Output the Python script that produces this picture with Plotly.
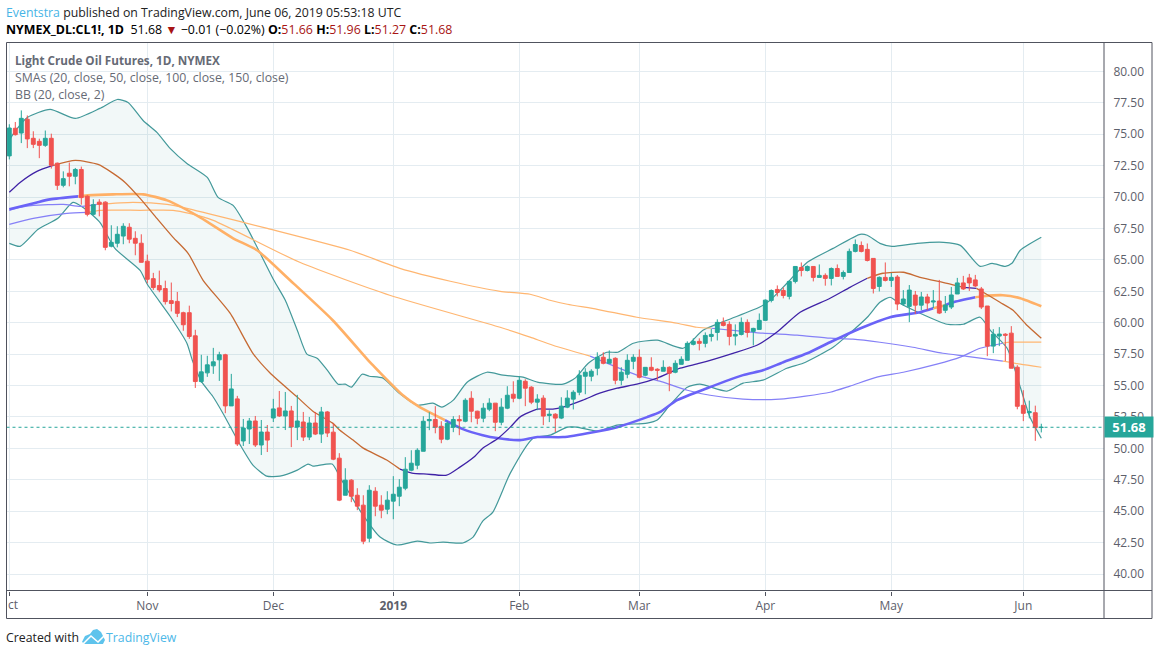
import plotly.graph_objects as go

W, H = 1158, 655

OPEN = [73.28,75.48,75.10,76.20,74.68,74.44,74.12,74.68,72.70,70.94,71.90,71.66,72.20,70.07,68.63,69.60,69.60,66.09,66.33,66.90,
        67.60,66.72,66.33,64.90,63.51,62.96,62.72,61.76,61.70,60.80,60.80,58.96,55.32,56.01,56.57,57.05,57.45,53.38,53.94,50.59,
        51.54,52.18,50.27,51.30,52.42,53.22,52.58,52.98,51.70,52.10,50.90,52.02,51.14,52.90,51.29,49.22,46.27,47.47,46.27,45.48,
        42.85,46.59,45.48,45.16,45.80,46.19,46.83,48.26,48.66,49.77,52.20,52.30,51.76,50.73,51.68,52.30,52.16,53.99,52.96,52.40,
        53.12,53.60,52.08,53.20,54.31,53.99,55.34,54.87,53.68,54.00,52.62,52.72,52.41,53.28,53.92,54.47,55.74,55.74,56.38,57.25,
        56.77,57.17,55.42,55.90,56.93,57.25,55.82,56.45,56.30,56.14,56.45,56.06,56.69,57.01,58.28,58.52,58.36,58.91,59.23,60.03,
        59.87,58.94,59.07,60.03,59.31,59.47,60.19,61.78,62.65,62.57,62.10,63.29,64.40,64.16,64.48,63.61,63.77,63.53,64.32,63.69,
        64.00,65.68,66.15,65.84,65.12,62.89,63.61,63.37,63.64,61.49,61.30,62.20,61.40,62.05,61.65,61.73,60.99,61.25,62.29,63.17,
        63.57,63.41,62.69,61.33,58.14,58.94,59.09,59.17,56.46,53.43,52.84,52.84,51.66]
HIGH = [75.80,75.98,76.90,76.50,75.24,74.65,75.30,75.05,72.75,72.05,72.75,72.32,72.43,70.15,69.83,69.83,69.67,67.76,67.68,67.92,
        67.92,67.28,67.04,65.42,63.97,64.15,63.35,63.20,62.45,60.88,61.36,59.44,57.45,57.37,58.00,57.69,57.53,55.93,54.18,52.34,
        52.42,52.58,52.26,51.86,53.94,54.57,54.49,53.38,54.26,52.90,52.50,52.90,53.30,52.98,52.00,49.62,48.42,47.55,46.83,46.27,
        47.07,46.91,46.27,46.59,47.79,47.55,49.30,49.85,50.01,52.56,52.88,53.36,52.16,52.16,52.56,52.64,53.99,54.55,53.00,53.60,
        53.99,53.60,53.99,54.95,55.34,55.74,55.50,54.95,54.31,54.23,53.04,52.80,54.07,54.63,54.63,56.22,56.38,56.30,57.65,57.65,
        57.80,57.25,56.46,57.49,57.49,57.88,56.45,57.25,56.38,57.01,56.53,57.01,57.33,58.52,58.76,58.76,59.23,59.50,60.27,60.42,
        60.11,59.87,60.42,60.27,59.60,60.74,61.86,62.65,62.97,62.81,63.37,64.48,64.80,64.56,64.48,64.64,63.93,64.40,64.64,64.16,
        65.90,66.63,66.47,66.31,65.12,63.69,64.80,63.96,63.80,62.60,63.00,62.53,62.45,62.30,62.60,63.41,62.13,62.85,63.57,63.73,
        63.89,63.81,62.85,61.33,59.49,59.65,59.17,59.73,56.62,54.63,53.80,53.40,51.96]
LOW = [73.00,74.90,74.30,73.90,73.90,73.10,74.00,72.27,70.57,70.78,70.86,71.02,69.40,68.47,68.55,68.47,65.77,66.00,66.00,66.25,
       66.33,65.37,64.80,63.14,62.61,62.43,61.45,60.90,60.45,59.36,58.72,54.81,55.21,55.69,55.93,55.37,52.80,53.38,50.19,50.19,
       50.35,50.11,49.47,49.71,52.10,52.50,51.46,50.10,50.66,50.59,50.66,51.06,50.43,50.90,49.06,45.80,46.27,45.72,45.08,42.37,
       42.53,44.60,44.44,44.76,44.36,45.40,46.67,48.18,48.34,49.77,51.45,51.20,50.41,50.65,51.29,51.05,52.08,52.08,51.92,52.08,
       52.96,51.37,51.84,53.12,53.67,53.91,53.36,53.52,53.04,51.85,52.09,51.30,52.33,53.20,53.10,54.23,54.31,55.34,55.82,56.69,
       56.77,55.10,55.03,55.58,56.30,55.58,55.74,56.14,55.42,56.14,54.55,55.98,56.69,57.01,58.20,57.80,58.04,58.51,58.59,59.71,
       58.20,58.20,58.99,58.83,58.20,59.47,60.19,61.62,62.10,61.94,61.86,63.13,63.69,64.08,63.29,63.61,62.95,62.97,63.69,63.45,
       64.00,65.60,65.60,64.88,62.33,62.49,63.29,62.85,61.00,61.34,60.05,60.70,61.00,61.00,61.17,60.69,60.77,61.09,62.29,62.61,
       62.53,62.85,61.09,57.34,57.58,58.14,56.95,56.38,53.11,52.17,52.39,50.60,51.27]
CLOSE = [75.50,74.97,76.27,74.63,74.20,74.12,74.68,72.53,70.94,71.47,71.66,72.20,69.96,68.63,69.40,69.43,66.00,66.40,67.04,67.68,
         66.65,66.33,64.81,63.46,62.80,62.61,61.68,61.53,60.75,59.84,58.91,55.32,56.09,56.65,56.89,57.45,53.38,54.73,50.35,51.62,
         52.18,50.27,51.30,50.66,53.14,52.58,52.98,51.70,52.18,50.90,52.02,51.14,52.90,51.22,49.14,45.88,47.47,46.19,45.40,42.61,
         46.67,45.40,45.08,45.88,46.35,46.91,48.34,48.82,49.85,52.16,52.30,51.68,50.73,52.00,52.30,52.19,53.83,52.96,52.40,53.20,
         53.60,52.08,53.28,54.23,53.99,55.42,54.79,53.68,53.92,52.57,52.72,52.41,53.36,54.00,54.47,55.82,56.06,56.14,57.25,56.77,
         57.09,55.42,56.06,57.01,57.25,55.66,56.45,56.22,56.22,56.45,55.98,56.77,57.09,58.36,58.52,58.36,58.99,59.07,60.03,59.79,
         58.91,59.07,60.03,59.23,59.55,60.19,61.80,62.57,62.41,62.17,63.29,64.48,64.16,64.48,63.61,63.77,63.53,64.32,63.69,64.00,
         65.68,66.23,65.68,64.96,62.73,63.61,63.37,63.61,61.49,61.89,62.60,61.40,62.05,61.57,61.73,60.77,61.41,62.21,63.17,62.69,
         63.17,62.93,61.25,58.14,59.09,59.10,59.01,56.38,53.35,52.79,52.92,51.65,51.68]
INDEX = list(range(len(CLOSE)))

BB_UPPER = [(0,74.51),(0.6,74.99),(3,76.34),(6.8,76.98),(11,76.26),(15.1,77.06),(18,77.77),(19.8,77.53),(22.3,76.10),(24.6,75.15),
            (26.8,73.88),(29.6,72.68),(33,71.57),(34.8,69.98),(37.3,69.34),(39.6,67.59),(44.1,63.38),(46,61.79),(48,59.40),(49.6,57.50),
            (51.3,57.18),(53,56.22),(54.8,55.11),(56,55.11),(57,54.87),(58.8,55.90),(60,55.74),(62.3,55.59),(65,54.39),(68,53.44),
            (70.6,53.60),(72.1,53.28),(74,53.84),(76.3,55.27),(79.6,56.06),(82.3,55.83),(85.6,55.67),(88,55.27),(92.3,55.11),(94.3,55.59),
            (96.5,56.78),(99.6,57.65),(101.4,57.65),(104,58.37),(108,58.61),(112.3,57.97),(115.6,59.40),(119.6,60.20),(125,61.23),(126.8,61.79),
            (129.6,63.14),(133,64.81),(137.3,65.92),(141.8,67.04),(143,66.96),(145.1,66.32),(147.1,66.08),(151.3,66.32),(155.7,66.40),(158.5,66.16),
            (161.8,64.49),(163.8,64.73),(166,64.49),(167.1,64.73),(168.5,65.77),(172,66.80)]
BB_LOWER = [(0,66.32),(1.8,66.08),(4.8,67.44),(8.1,68.31),(10.6,69.58),(12.3,69.18),(15.1,67.99),(17.6,65.92),(21.8,64.17),(23,63.06),
            (26.8,60.52),(29.6,58.37),(30.5,57.02),(32.1,55.27),(33.9,54.15),(35.6,52.80),(38.5,50.26),(40.6,48.67),(42.9,47.79),(45.1,47.79),
            (48,48.27),(49.8,48.75),(50.6,48.59),(53.8,48.75),(55.1,47.71),(58.4,45.09),(61.8,42.94),(64.6,42.31),(68,42.62),(70.1,42.47),
            (72.3,42.54),(75.6,42.47),(77.3,42.94),(78.9,44.21),(80.6,44.93),(83.5,48.03),(87.3,50.81),(90.1,51.05),(93,51.69),(94.6,51.69),
            (98,51.37),(101.3,51.85),(106.3,52.01),(108,52.25),(110.1,53.44),(113,54.87),(115.1,55.11),(119.6,54.55),(122.3,55.19),(125.6,55.43),
            (129.6,56.38),(132.3,56.78),(137.3,58.05),(140.1,59.17),(143,60.44),(145.1,61.63),(146.8,62.03),(148.1,61.63),(151.8,60.76),(156.3,59.88),
            (159,59.88),(161.8,60.44),(163.5,59.40),(166.3,57.97),(168.5,54.87),(170.1,52.49),(172,50.81)]

SMA20_PURPLE = [
    [(0,70.38),(1.8,71.17),(4.6,72.05),(6.8,72.45),(7.4,72.53)],
    [(65.1,48.35),(67.1,48.03),(69.6,47.95),(72.9,47.87),(75.1,48.51),(77.6,49.38),(78.9,50.02),(81.3,50.74),(83.5,51.69),(85.1,52.49),(88,53.12),
     (90.6,53.12),(92.3,53.28),(95.6,53.84),(98.4,54.39),(101.3,54.79),(104.6,55.11),(108,55.59),(111.8,56.38),(115.1,56.78),(120.6,57.57),
     (124.6,58.21),(127.9,59.24),(131.8,60.84),(136.8,61.95),(140.1,62.82),(143,63.54)],
    [(159,62.82),(161.2,62.74)],
]
SMA20_BROWN = [
    [(7.4,72.53),(11,72.92),(14.8,72.60),(17.3,71.89),(19.3,71.17),(21.8,69.90),(24.6,68.31),(27.3,66.80),(29.8,65.53),(32.3,63.38),(36.8,60.76),
     (40.6,57.57),(43.5,55.98),(48,54.08),(50.6,52.96),(53.9,52.01),(55.1,51.45),(57.3,50.66),(59,50.02),(62.9,49.07),(65.1,48.35)],
    [(143,63.54),(145.6,63.94),(149,64.02),(151.8,63.62),(156.3,63.14),(159,62.82)],
    [(161.2,62.74),(162.6,62.35),(165.1,61.63),(167.3,60.99),(169.6,59.80),(172,58.77)],
]
SMA50_BLUE = [
    [(0,69.03),(4.6,69.58),(6.8,69.82),(11.5,70.06)],
    [(72.6,52.25),(75.6,51.53),(78.9,51.05),(81.3,50.82),(85.1,50.66),(88,50.90),(92.3,50.90),(97.3,51.29),(101.3,51.69),(106.3,52.49),(108.4,52.88),
     (111.3,53.84),(116.3,54.79),(122.3,55.83),(125.6,56.22),(129,56.86),(133,57.57),(136.8,58.45),(142.3,59.64),(146.8,60.44),(151.8,60.84),(154,61.15)],
    [(156,61.40),(157.3,61.63),(161,62.03)],
]
SMA50_ORANGE = [
    [(11.5,70.06),(13,70.14),(17.3,70.22),(22.3,70.22),(26.3,69.74),(31.8,68.39),(37.3,66.72),(41.3,65.77),(46.8,63.38),(53.9,60.20),(60.1,56.86),
     (61.4,56.22),(65.6,54.23),(68.4,53.28),(72.6,52.25)],
    [(154,61.15),(156,61.40)],
    [(161,62.03),(162.3,62.11),(165.6,62.19),(168.5,61.95),(172,61.31)],
]
SMA150_BLUE = [
    [(0,68.95),(1.8,69.18),(4,69.34),(9,69.42),(11.8,69.26),(14.6,69.42)],
    [(117,59.56),(122.3,59.32),(125.6,59.17),(131.3,59.01),(136.8,58.77),(140.6,58.70),(145.1,58.45),(150.6,58.05),(155.6,57.57),(159.6,57.33),(165.6,56.94)],
]
SMA150_ORANGE = [
    [(14.6,69.42),(20.6,69.58),(26.3,69.42),(29.6,69.11),(33,68.71),(43,67.51),(56.8,65.77),(65.1,64.33),(73.5,63.30),(81.8,62.50),(86.8,62.27),
     (90.1,61.79),(93,61.47),(98,61.07),(104.6,60.44),(111.3,59.96),(114.6,59.64),(117,59.56)],
    [(165.6,56.94),(168.5,56.70),(172,56.46)],
]
SMA100_BLUE = [
    [(0,67.83),(4,68.31),(9.6,68.71),(13,68.79)],
    [(96.8,57.34),(104.6,55.83),(108.4,55.35),(113,54.63),(116.8,54.23),(122.3,53.92),(128.4,53.92),(136.8,54.47),(140.1,54.95),(144.6,55.67),
     (149,56.06),(154.6,56.70),(158.5,57.26),(161.8,57.97),(165.6,58.37)],
]
SMA100_ORANGE = [
    [(13,68.79),(15.1,68.95),(21.8,68.95),(27.3,68.95),(30,68.71),(34,68.15),(48.4,64.81),(63.4,62.19),(81.8,59.64),(86.8,58.85),(90.6,58.21),(96.8,57.34)],
    [(165.6,58.37),(166.8,58.45),(172,58.45)],
]
MONTH_TICKS = [23, 44, 64, 85, 105, 126, 147, 169]
MONTH_LABELS = ["Nov", "Dec", "<b>2019</b>", "Feb", "Mar", "Apr", "May", "Jun"]
PRICE_TICKS = [40, 42.5, 45, 47.5, 50, 52.5, 55, 57.5, 60, 62.5, 65, 67.5, 70, 72.5, 75, 77.5, 80]

GREEN, RED = "#26a69a", "#f05350"
TEAL_LINE = "#43999a"
FONT = "Open Sans"
GRID = "#e4ecf1"
FRAME = "#50535e"
TXT = "#5d606b"

def px(x): return x / W
def py(y): return 1 - y / H

fig = go.Figure()

def line(pts, color, width, **kw):
    fig.add_trace(go.Scatter(x=[p[0] for p in pts], y=[p[1] for p in pts], mode="lines",
                             line=dict(color=color, width=width, shape="spline", smoothing=0.6),
                             hoverinfo="skip", showlegend=False, **kw))

line(BB_UPPER, TEAL_LINE, 1.2)
line(BB_LOWER, TEAL_LINE, 1.2, fill="tonexty", fillcolor="rgba(34,139,139,0.06)")
for seg in SMA150_BLUE: line(seg, "#8580f7", 1.2)
for seg in SMA150_ORANGE: line(seg, "#ffb671", 1.2)
for seg in SMA100_BLUE: line(seg, "#8580f7", 1.2)
for seg in SMA100_ORANGE: line(seg, "#ffb671", 1.2)
for seg in SMA50_BLUE: line(seg, "#6a63f7", 2.6)
for seg in SMA50_ORANGE: line(seg, "#ffb066", 2.6)
for seg in SMA20_PURPLE: line(seg, "#3f22a6", 1.3)
for seg in SMA20_BROWN: line(seg, "#c66a33", 1.3)

fig.add_trace(go.Candlestick(x=INDEX, open=OPEN, high=HIGH, low=LOW, close=CLOSE, yaxis="y2",
                             increasing=dict(line=dict(color=GREEN, width=1), fillcolor=GREEN),
                             decreasing=dict(line=dict(color=RED, width=1), fillcolor=RED),
                             whiskerwidth=0, hoverinfo="skip", showlegend=False))

XR = [(6.5 - 9.3) / 6, (1104 - 9.3) / 6]
YR = [40 - (590.5 - 574) / 12.575, 80 + (71 - 42) / 12.575]

def note(x, y, text, size=12, color="#000", anchor="left", family=FONT):
    fig.add_annotation(x=px(x), y=py(y), xref="paper", yref="paper", text=text, showarrow=False,
                       xanchor=anchor, yanchor="middle", align="left",
                       font=dict(family=family, size=size, color=color))

note(4, 12, '<span style="color:#46b4e6">Eventstra</span> <span style="color:#222">published on TradingView.com, June 06, 2019 05:53:18 UTC</span>', 12.3)
DR = "#a81414"
note(4, 29, f'<b>NYMEX_DL:CL1!, 1D</b>  51.68 <span style="color:{DR}">▼</span> −0.01 (−0.02%) <b>O:</b><span style="color:{DR}">51.66</span> '
            f'<b>H:</b><span style="color:{DR}">51.96</span> <b>L:</b><span style="color:{DR}">51.27</span> <b>C:</b><span style="color:{DR}">51.68</span>', 12.4)
note(13, 60, "<b>Light Crude Oil Futures, 1D, NYMEX</b>", 11.7, "#666a75")
note(13, 77, "SMAs (20, close, 50, close, 100, close, 150, close)", 12.3, "#666a75")
note(13, 94, "BB (20, close, 2)", 12.3, "#666a75")
note(6, 604, "ct", 12, TXT)
note(4, 637, "Created with", 12.3, "#222")
note(104, 637, "TradingView", 12.3, "#4db8e8")

fig.add_annotation(x=px(1104), y=CLOSE[-1], xref="paper", yref="y", text="<b>51.68</b>", showarrow=False,
                   xanchor="left", yanchor="middle", align="center", width=46, height=18, bgcolor=GREEN,
                   font=dict(family=FONT, size=13, color="#fff"))

def pth(pts):
    return "M" + " L".join(f"{px(a):.5f},{py(b):.5f}" for a, b in pts)

shapes = [
    dict(type="line", xref="paper", yref="y", x0=px(6.5), x1=px(1104), y0=CLOSE[-1], y1=CLOSE[-1],
         line=dict(color=GREEN, width=1, dash="dot"), layer="above"),
    dict(type="rect", xref="paper", yref="paper", x0=px(6.5), x1=px(1152), y0=py(618.5), y1=py(42.5),
         line=dict(color=FRAME, width=1), layer="above"),
    dict(type="line", xref="paper", yref="paper", x0=px(1104), x1=px(1104), y0=py(618.5), y1=py(42.5),
         line=dict(color=FRAME, width=1), layer="above"),
    dict(type="line", xref="paper", yref="paper", x0=px(6.5), x1=px(1152), y0=py(590.5), y1=py(590.5),
         line=dict(color=FRAME, width=1), layer="above"),
    dict(type="path", xref="paper", yref="paper", fillcolor="#5ec3ec", line=dict(width=0),
         path=pth([(82, 642), (85, 636), (90, 634), (93, 630), (97, 629), (101, 632), (103, 636), (105, 640), (103, 644), (85, 644)]) + " Z"),
    dict(type="path", xref="paper", yref="paper", line=dict(color="#fff", width=1.5),
         path=pth([(83, 644), (91, 636), (98, 642), (105, 635)])),
]

layout_x = dict(domain=[px(6.5), px(1104)], range=XR, showgrid=True, gridcolor=GRID, gridwidth=1, zeroline=False,
                tickmode="array", tickvals=[0] + MONTH_TICKS, ticktext=[""] + MONTH_LABELS,
                ticks="outside", ticklen=4, tickcolor=FRAME, showline=False,
                tickfont=dict(family=FONT, size=12, color=TXT), rangeslider=dict(visible=False), fixedrange=True)
layout_y = dict(domain=[py(590.5), py(42.5)], range=YR, side="right", showgrid=True, gridcolor=GRID, gridwidth=1,
                zeroline=False, tickmode="array", tickvals=PRICE_TICKS, ticktext=[f"{v:.2f}" for v in PRICE_TICKS],
                ticks="outside", ticklen=6, tickcolor="rgba(0,0,0,0)", showline=False,
                tickfont=dict(family=FONT, size=12, color=TXT), fixedrange=True)
layout_y2 = dict(domain=[py(590.5), py(42.5)], range=YR, overlaying="y", side="right", visible=False, fixedrange=True)

fig.update_layout(width=W, height=H, margin=dict(l=0, r=0, t=0, b=0), autosize=False, plot_bgcolor="#fff", paper_bgcolor="#fff",
                  xaxis=layout_x, yaxis=layout_y, yaxis2=layout_y2, shapes=shapes, boxgap=0.08, showlegend=False,
                  dragmode=False, hovermode=False)

fig.write_html("out.html", config=dict(displayModeBar=False),
               post_script="document.body.style.margin='0';document.body.style.overflow='hidden';")
